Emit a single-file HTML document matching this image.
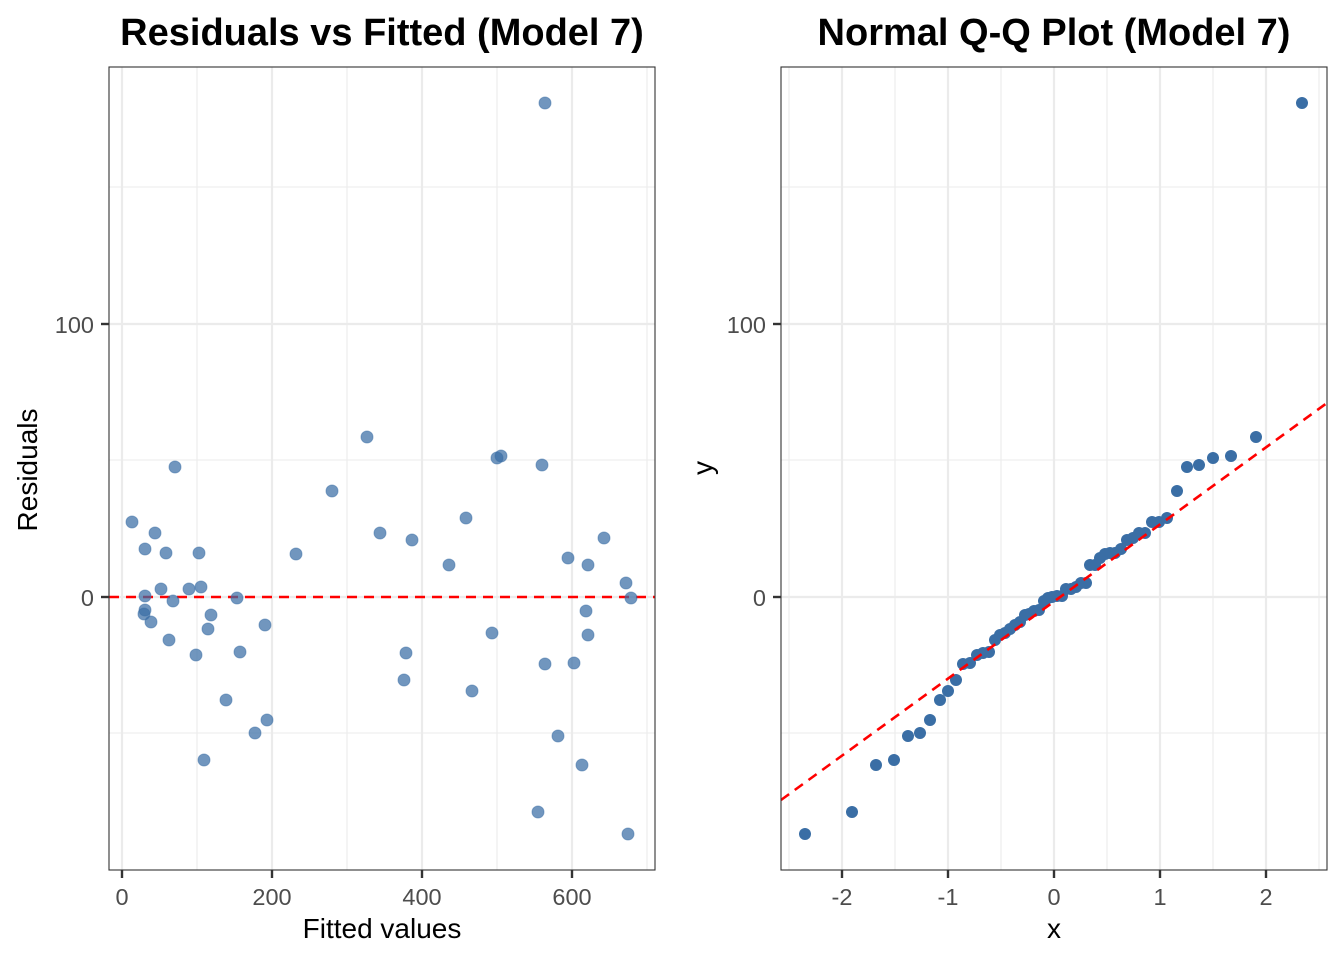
<!DOCTYPE html>
<html><head><style>body{margin:0;background:#fff}svg{display:block}</style></head><body>
<svg width="1344" height="960" xmlns="http://www.w3.org/2000/svg" font-family="Liberation Sans, Arial, sans-serif">
<rect width="1344" height="960" fill="#fff"/>
<!-- LEFT -->
<g stroke="#ebebeb" stroke-width="1.1">
<line x1="109" x2="655" y1="733" y2="733"/><line x1="109" x2="655" y1="460" y2="460"/><line x1="109" x2="655" y1="187" y2="187"/>
<line x1="197" x2="197" y1="67" y2="870"/><line x1="347" x2="347" y1="67" y2="870"/><line x1="497" x2="497" y1="67" y2="870"/><line x1="647" x2="647" y1="67" y2="870"/>
</g>
<g stroke="#ebebeb" stroke-width="2.2">
<line x1="109" x2="655" y1="597" y2="597"/><line x1="109" x2="655" y1="324" y2="324"/>
<line x1="122" x2="122" y1="67" y2="870"/><line x1="272" x2="272" y1="67" y2="870"/><line x1="422" x2="422" y1="67" y2="870"/><line x1="572" x2="572" y1="67" y2="870"/>
</g>
<line x1="109" x2="655" y1="597" y2="597" stroke="#ff0000" stroke-width="2.6" stroke-dasharray="10,7"/>
<g fill="#3a6ea5" fill-opacity="0.72" stroke="#3a6ea5" stroke-opacity="0.5">
<circle cx="132" cy="522" r="6"/><circle cx="145" cy="549" r="6"/><circle cx="145" cy="596" r="6"/><circle cx="144" cy="614" r="6"/><circle cx="145" cy="610" r="6"/><circle cx="151" cy="622" r="6"/><circle cx="155" cy="533" r="6"/><circle cx="161" cy="589" r="6"/><circle cx="166" cy="553" r="6"/><circle cx="169" cy="640" r="6"/><circle cx="173" cy="601" r="6"/><circle cx="175" cy="467" r="6"/><circle cx="189" cy="589" r="6"/><circle cx="196" cy="655" r="6"/><circle cx="199" cy="553" r="6"/><circle cx="201" cy="587" r="6"/><circle cx="204" cy="760" r="6"/><circle cx="208" cy="629" r="6"/><circle cx="211" cy="615" r="6"/><circle cx="226" cy="700" r="6"/><circle cx="237" cy="598" r="6"/><circle cx="240" cy="652" r="6"/><circle cx="255" cy="733" r="6"/><circle cx="265" cy="625" r="6"/><circle cx="267" cy="720" r="6"/><circle cx="296" cy="554" r="6"/><circle cx="332" cy="491" r="6"/><circle cx="367" cy="437" r="6"/><circle cx="380" cy="533" r="6"/><circle cx="404" cy="680" r="6"/><circle cx="406" cy="653" r="6"/><circle cx="412" cy="540" r="6"/><circle cx="449" cy="565" r="6"/><circle cx="466" cy="518" r="6"/><circle cx="472" cy="691" r="6"/><circle cx="492" cy="633" r="6"/><circle cx="497" cy="458" r="6"/><circle cx="501" cy="456" r="6"/><circle cx="542" cy="465" r="6"/><circle cx="545" cy="664" r="6"/><circle cx="538" cy="812" r="6"/><circle cx="545" cy="103" r="6"/><circle cx="558" cy="736" r="6"/><circle cx="568" cy="558" r="6"/><circle cx="574" cy="663" r="6"/><circle cx="582" cy="765" r="6"/><circle cx="586" cy="611" r="6"/><circle cx="588" cy="565" r="6"/><circle cx="588" cy="635" r="6"/><circle cx="604" cy="538" r="6"/><circle cx="626" cy="583" r="6"/><circle cx="628" cy="834" r="6"/><circle cx="631" cy="598" r="6"/>
</g>
<rect x="109" y="67" width="546" height="803" fill="none" stroke="#333" stroke-width="1.1"/>
<g stroke="#333" stroke-width="2.4">
<line x1="101" x2="109" y1="597" y2="597"/><line x1="101" x2="109" y1="324" y2="324"/>
<line x1="122" x2="122" y1="870" y2="878"/><line x1="272" x2="272" y1="870" y2="878"/><line x1="422" x2="422" y1="870" y2="878"/><line x1="572" x2="572" y1="870" y2="878"/>
</g>
<g fill="#4d4d4d" font-size="23.5">
<text x="94" y="606" text-anchor="end">0</text><text x="94" y="333" text-anchor="end">100</text>
<text x="122" y="905" text-anchor="middle">0</text><text x="272" y="905" text-anchor="middle">200</text><text x="422" y="905" text-anchor="middle">400</text><text x="572" y="905" text-anchor="middle">600</text>
</g>
<text x="382" y="938" text-anchor="middle" font-size="28">Fitted values</text>
<text transform="translate(37,470) rotate(-90)" text-anchor="middle" font-size="28">Residuals</text>
<text x="382" y="45" text-anchor="middle" font-size="38" font-weight="bold">Residuals vs Fitted (Model 7)</text>
<!-- RIGHT -->
<g stroke="#ebebeb" stroke-width="1.1">
<line x1="781" x2="1327" y1="733" y2="733"/><line x1="781" x2="1327" y1="460" y2="460"/><line x1="781" x2="1327" y1="187" y2="187"/>
<line x1="789" x2="789" y1="67" y2="870"/><line x1="895" x2="895" y1="67" y2="870"/><line x1="1001" x2="1001" y1="67" y2="870"/><line x1="1107" x2="1107" y1="67" y2="870"/><line x1="1213" x2="1213" y1="67" y2="870"/><line x1="1319" x2="1319" y1="67" y2="870"/>
</g>
<g stroke="#ebebeb" stroke-width="2.2">
<line x1="781" x2="1327" y1="597" y2="597"/><line x1="781" x2="1327" y1="324" y2="324"/>
<line x1="842" x2="842" y1="67" y2="870"/><line x1="948" x2="948" y1="67" y2="870"/><line x1="1054" x2="1054" y1="67" y2="870"/><line x1="1160" x2="1160" y1="67" y2="870"/><line x1="1266" x2="1266" y1="67" y2="870"/>
</g>
<g fill="#3a6ea5">
<circle cx="805" cy="834" r="6"/><circle cx="852" cy="812" r="6"/><circle cx="876" cy="765" r="6"/><circle cx="894" cy="760" r="6"/><circle cx="908" cy="736" r="6"/><circle cx="920" cy="733" r="6"/><circle cx="930" cy="720" r="6"/><circle cx="940" cy="700" r="6"/><circle cx="948" cy="691" r="6"/><circle cx="956" cy="680" r="6"/><circle cx="963" cy="664" r="6"/><circle cx="970" cy="663" r="6"/><circle cx="977" cy="655" r="6"/><circle cx="983" cy="653" r="6"/><circle cx="989" cy="652" r="6"/><circle cx="995" cy="640" r="6"/><circle cx="1000" cy="635" r="6"/><circle cx="1005" cy="633" r="6"/><circle cx="1010" cy="629" r="6"/><circle cx="1015" cy="625" r="6"/><circle cx="1020" cy="622" r="6"/><circle cx="1025" cy="615" r="6"/><circle cx="1029" cy="614" r="6"/><circle cx="1034" cy="611" r="6"/><circle cx="1039" cy="610" r="6"/><circle cx="1044" cy="601" r="6"/><circle cx="1048" cy="598" r="6"/><circle cx="1052" cy="597" r="6"/><circle cx="1057" cy="596" r="6"/><circle cx="1062" cy="596" r="6"/><circle cx="1066" cy="589" r="6"/><circle cx="1071" cy="589" r="6"/><circle cx="1076" cy="587" r="6"/><circle cx="1081" cy="583" r="6"/><circle cx="1086" cy="583" r="6"/><circle cx="1090" cy="565" r="6"/><circle cx="1095" cy="565" r="6"/><circle cx="1100" cy="558" r="6"/><circle cx="1105" cy="554" r="6"/><circle cx="1110" cy="553" r="6"/><circle cx="1115" cy="553" r="6"/><circle cx="1121" cy="549" r="6"/><circle cx="1127" cy="540" r="6"/><circle cx="1133" cy="538" r="6"/><circle cx="1139" cy="533" r="6"/><circle cx="1145" cy="533" r="6"/><circle cx="1152" cy="522" r="6"/><circle cx="1159" cy="522" r="6"/><circle cx="1167" cy="518" r="6"/><circle cx="1177" cy="491" r="6"/><circle cx="1187" cy="467" r="6"/><circle cx="1199" cy="465" r="6"/><circle cx="1213" cy="458" r="6"/><circle cx="1231" cy="456" r="6"/><circle cx="1256" cy="437" r="6"/><circle cx="1302" cy="103" r="6"/>
</g>
<line x1="781" y1="800" x2="1327" y2="403" stroke="#ff0000" stroke-width="2.6" stroke-dasharray="10,7"/>
<rect x="781" y="67" width="546" height="803" fill="none" stroke="#333" stroke-width="1.1"/>
<g stroke="#333" stroke-width="2.4">
<line x1="773" x2="781" y1="597" y2="597"/><line x1="773" x2="781" y1="324" y2="324"/>
<line x1="842" x2="842" y1="870" y2="878"/><line x1="948" x2="948" y1="870" y2="878"/><line x1="1054" x2="1054" y1="870" y2="878"/><line x1="1160" x2="1160" y1="870" y2="878"/><line x1="1266" x2="1266" y1="870" y2="878"/>
</g>
<g fill="#4d4d4d" font-size="23.5">
<text x="766" y="606" text-anchor="end">0</text><text x="766" y="333" text-anchor="end">100</text>
<text x="842" y="905" text-anchor="middle">-2</text><text x="948" y="905" text-anchor="middle">-1</text><text x="1054" y="905" text-anchor="middle">0</text><text x="1160" y="905" text-anchor="middle">1</text><text x="1266" y="905" text-anchor="middle">2</text>
</g>
<text x="1054" y="938" text-anchor="middle" font-size="28">x</text>
<text transform="translate(712,468) rotate(-90)" text-anchor="middle" font-size="28">y</text>
<text x="1054" y="45" text-anchor="middle" font-size="38" font-weight="bold">Normal Q-Q Plot (Model 7)</text>
</svg>
</body></html>
